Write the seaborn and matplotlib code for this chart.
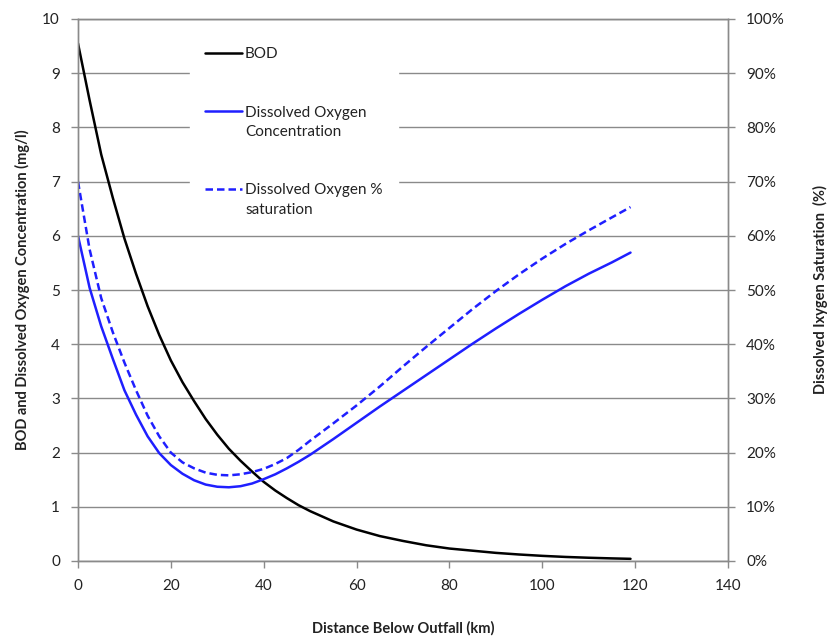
import matplotlib
matplotlib.use("Agg")
import numpy as np
import matplotlib.pyplot as plt
import seaborn as sns
from matplotlib.ticker import PercentFormatter
from matplotlib.legend_handler import HandlerLine2D

# Distance below the outfall (km)
distance_km = [0, 2.5, 5, 7.5, 10, 12.5, 15, 17.5, 20, 22.5, 25, 27.5, 30, 32.5, 35,
               37.5, 40, 42.5, 45, 47.5, 50, 55, 60, 65, 70, 75, 80, 85, 90, 95,
               100, 105, 110, 115, 119]

# Biochemical oxygen demand (mg/l)
bod_mgl = [9.55, 8.5, 7.5, 6.7, 5.95, 5.3, 4.7, 4.17, 3.7, 3.3, 2.95, 2.62, 2.33, 2.07,
           1.85, 1.65, 1.46, 1.3, 1.16, 1.03, 0.92, 0.73, 0.58, 0.46, 0.37, 0.29,
           0.23, 0.19, 0.15, 0.12, 0.095, 0.075, 0.06, 0.048, 0.04]

# Dissolved oxygen concentration (mg/l)
do_mgl = [6.0, 5.04, 4.33, 3.73, 3.15, 2.7, 2.3, 1.99, 1.77, 1.61, 1.49, 1.41, 1.37,
          1.36, 1.38, 1.43, 1.51, 1.6, 1.71, 1.83, 1.96, 2.25, 2.55, 2.85, 3.14, 3.43,
          3.72, 4.01, 4.29, 4.56, 4.82, 5.07, 5.3, 5.51, 5.69]

# Dissolved oxygen saturation (%)
do_sat_pct = [70, 57.5, 48.5, 42.2, 36.6, 31.5, 26.8, 23.0, 20.0, 18.2, 17.1, 16.3,
              15.9, 15.8, 16.0, 16.4, 17.0, 17.9, 19.0, 20.5, 22.2, 25.4, 28.7, 32.2,
              35.9, 39.5, 43.0, 46.5, 49.8, 52.9, 55.8, 58.5, 61.0, 63.4, 65.3]

x_ticks = [0, 20, 40, 60, 80, 100, 120, 140]
left_ticks = list(range(0, 11))
right_ticks = [v / 100 for v in range(0, 101, 10)]

sns.set_theme(style="white")
plt.rcParams["font.family"] = ["Lato", "DejaVu Sans"]

GRID = "#8a8a8a"
TEXT = "#222222"
BLUE = "#1f1fff"


class FirstLineHandler(HandlerLine2D):
    """Legend line handle lifted to sit beside the first line of a two-line label."""

    def __init__(self, shift=0.0, **kw):
        super().__init__(**kw)
        self.shift = shift

    def create_artists(self, *args, **kwargs):
        arts = super().create_artists(*args, **kwargs)
        for a in arts:
            a.set_ydata(np.asarray(a.get_ydata(), dtype=float) + self.shift)
        return arts


fig = plt.figure(figsize=(8.28, 6.37), dpi=100)
ax = fig.add_axes([78 / 828, 1 - 561 / 637, 650 / 828, 542 / 637])
ax2 = ax.twinx()

sns.lineplot(x=distance_km, y=bod_mgl, ax=ax, color="black", linewidth=1.8,
             legend=False, label="BOD")
sns.lineplot(x=distance_km, y=do_mgl, ax=ax, color=BLUE, linewidth=1.8,
             legend=False, label="Dissolved Oxygen\nConcentration")
sns.lineplot(x=distance_km, y=[v / 100 for v in do_sat_pct], ax=ax2, color=BLUE,
             linewidth=1.8, linestyle=(0, (3, 1.6)), legend=False,
             label="Dissolved Oxygen %\nsaturation")
for a in (ax, ax2):
    if a.get_legend() is not None:
        a.get_legend().remove()

ax.set_xlim(0, 140)
ax.set_ylim(0, 10)
ax2.set_ylim(0, 1)
ax.set_xticks(x_ticks)
ax.set_yticks(left_ticks)
ax2.set_yticks(right_ticks)
ax2.yaxis.set_major_formatter(PercentFormatter(1.0, decimals=0))

# horizontal grid lines only
ax.yaxis.grid(True, color=GRID, linewidth=1.0)
ax.xaxis.grid(False)
ax2.grid(False)
ax.set_axisbelow(True)

for a in (ax, ax2):
    for side in ("left", "right", "bottom", "top"):
        a.spines[side].set_color(GRID)
        a.spines[side].set_linewidth(1.0)
        a.spines[side].set_visible(True)

ax.tick_params(axis="both", which="major", direction="out", length=5, width=1,
               color=GRID, labelsize=11, labelcolor=TEXT, pad=8,
               left=True, bottom=True)
ax2.tick_params(axis="y", direction="out", length=5, width=1, color=GRID,
                labelsize=11, labelcolor=TEXT, pad=8, right=True)

ax.set_xlabel("Distance Below Outfall (km)", fontsize=10.5, fontweight="bold",
              color=TEXT, labelpad=20)
ax.set_ylabel("BOD and Dissolved Oxygen Concentration (mg/l)", fontsize=10.5,
              fontweight="bold", color=TEXT, labelpad=9)
ax2.set_ylabel("Dissolved Ixygen Saturation  (%)", fontsize=10.5,
               fontweight="bold", color=TEXT, labelpad=20)

h1, l1 = ax.get_legend_handles_labels()
h2, l2 = ax2.get_legend_handles_labels()
handles = h1 + h2
labels = l1 + l2
handler_map = {h: FirstLineHandler(shift=8.0) for h, l in zip(handles, labels) if "\n" in l}
leg = ax2.legend(handles, labels, loc="upper left",
                 bbox_to_anchor=(190 / 828, 1 - 32 / 637),
                 bbox_transform=fig.transFigure, borderaxespad=0,
                 frameon=True, facecolor="white", edgecolor="white",
                 framealpha=1.0, fancybox=False, fontsize=11,
                 labelspacing=2.9, handlelength=2.4, handletextpad=0.2,
                 borderpad=1.0, alignment="left", handler_map=handler_map)
for t in leg.get_texts():
    t.set_color(TEXT)
    t.set_linespacing(1.5)

fig.savefig("out.png", dpi=100)
